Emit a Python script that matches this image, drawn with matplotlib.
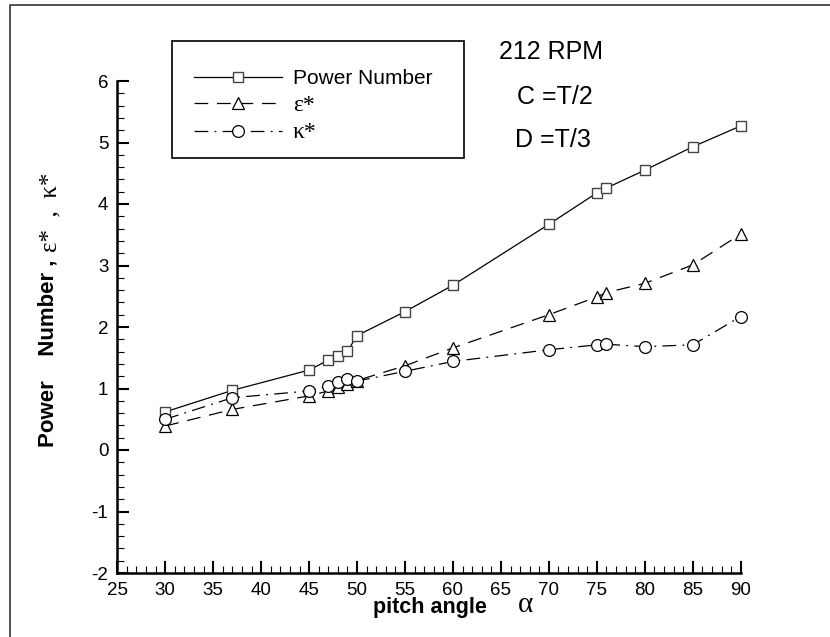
import matplotlib
matplotlib.use("Agg")
import matplotlib.pyplot as plt
from matplotlib.lines import Line2D
from matplotlib.patches import Rectangle
from matplotlib.ticker import MultipleLocator

plt.rcParams["axes.unicode_minus"] = False

# ---- data ----
pitch_angle = [30, 37, 45, 47, 48, 49, 50, 55, 60, 70, 75, 76, 80, 85, 90]
power_number = [0.62, 0.97, 1.30, 1.46, 1.53, 1.61, 1.86, 2.25, 2.68, 3.67, 4.18, 4.26, 4.55, 4.93, 5.27]
eps_star = [0.39, 0.66, 0.88, 0.96, 1.02, 1.07, 1.13, 1.37, 1.66, 2.20, 2.49, 2.56, 2.71, 3.01, 3.51]
kappa_star = [0.50, 0.85, 0.96, 1.04, 1.11, 1.16, 1.12, 1.28, 1.44, 1.63, 1.71, 1.72, 1.68, 1.71, 2.17]
x_ticks = [25, 30, 35, 40, 45, 50, 55, 60, 65, 70, 75, 80, 85, 90]
y_ticks = [-2, -1, 0, 1, 2, 3, 4, 5, 6]
series_labels = ["Power Number", "ε*", "κ*"]
annotations = ["212 RPM", "C =T/2", "D =T/3"]

W, H = 830, 637
fig = plt.figure(figsize=(W / 100, H / 100), dpi=100)
ax = fig.add_axes([117.3 / W, 1 - 573 / H, (740.7 - 117.3) / W, (573 - 81) / H])

sans = "Liberation Sans"
serif = "Liberation Serif"

l1, = ax.plot(pitch_angle, power_number, color="black", lw=0.9, ls="-", clip_on=False,
              marker="s", ms=6.8, mfc="white", mec="#444444", mew=1.0, label=series_labels[0])
l2, = ax.plot(pitch_angle, eps_star, color="black", lw=0.9, ls=(0, (11, 7)), clip_on=False,
              marker="^", ms=8, mfc="white", mec="black", mew=0.9, label=series_labels[1])
l3, = ax.plot(pitch_angle, kappa_star, color="black", lw=0.9, ls=(0, (11, 5, 1.5, 5)), clip_on=False,
              marker="o", ms=8.5, mfc="white", mec="black", mew=0.9, label=series_labels[2])

ax.set_xlim(25, 90)
ax.set_ylim(-2, 6)
ax.set_xticks(x_ticks)
ax.set_yticks(y_ticks)
ax.xaxis.set_minor_locator(MultipleLocator(1))
ax.yaxis.set_minor_locator(MultipleLocator(0.2))
for s in ["top", "right"]:
    ax.spines[s].set_visible(False)
for s in ["left", "bottom"]:
    ax.spines[s].set_linewidth(1.8)
ax.tick_params(which="major", direction="in", length=8.5, width=1.5, pad=6.5,
               labelsize=13.5, labelfontfamily=sans)
ax.tick_params(which="minor", direction="in", length=5, width=0.8)

# legend (frame drawn separately)
fig.add_artist(Rectangle((172 / W, 1 - 158 / H), (464 - 172) / W, (158 - 41) / H,
                         transform=fig.transFigure, fill=False, edgecolor="black", lw=1.2))
leg = ax.legend(handles=[l1, l2, l3], loc="upper left",
                bbox_to_anchor=(194 / W, 1 - 69 / H), bbox_transform=fig.transFigure,
                frameon=False, prop={"family": sans, "size": 15},
                handlelength=4.2, handletextpad=0.55,
                labelspacing=0.32, borderpad=0, borderaxespad=0, numpoints=1)
for t in leg.get_texts()[1:]:
    t.set_fontfamily(serif)
    t.set_fontsize(17)

# annotations
fig.text(551 / W, 1 - 52 / H, annotations[0], ha="center", va="center", fontsize=18, family=sans)
fig.text(517 / W, 1 - 97 / H, annotations[1], ha="left", va="center", fontsize=18, family=sans)
fig.text(515 / W, 1 - 140 / H, annotations[2], ha="left", va="center", fontsize=18, family=sans)

# axis labels
fig.text(430 / W, 1 - 608 / H, "pitch angle", ha="center", va="center",
         fontsize=15.5, weight="bold", family=sans)
fig.text(525 / W, 1 - 605 / H, "α", ha="center", va="center", fontsize=21, family=serif)
t1 = fig.text(48 / W, 1 - 447 / H, "Power    Number ,", rotation=90, ha="center", va="bottom",
              fontsize=16, weight="bold", family=sans)
fig.canvas.draw()
bb = t1.get_window_extent()
fig.text(50 / W, (bb.y1 + 8) / H, "ε*  ,  κ*", rotation=90, ha="center", va="bottom",
         fontsize=18, family=serif)

# figure frame lines (top and left)
fig.add_artist(Line2D([10 / W, 10 / W, 1], [0, 1 - 5 / H, 1 - 5 / H],
                      transform=fig.transFigure, color="#333333", lw=1.2))

fig.savefig("out.png", dpi=100)
